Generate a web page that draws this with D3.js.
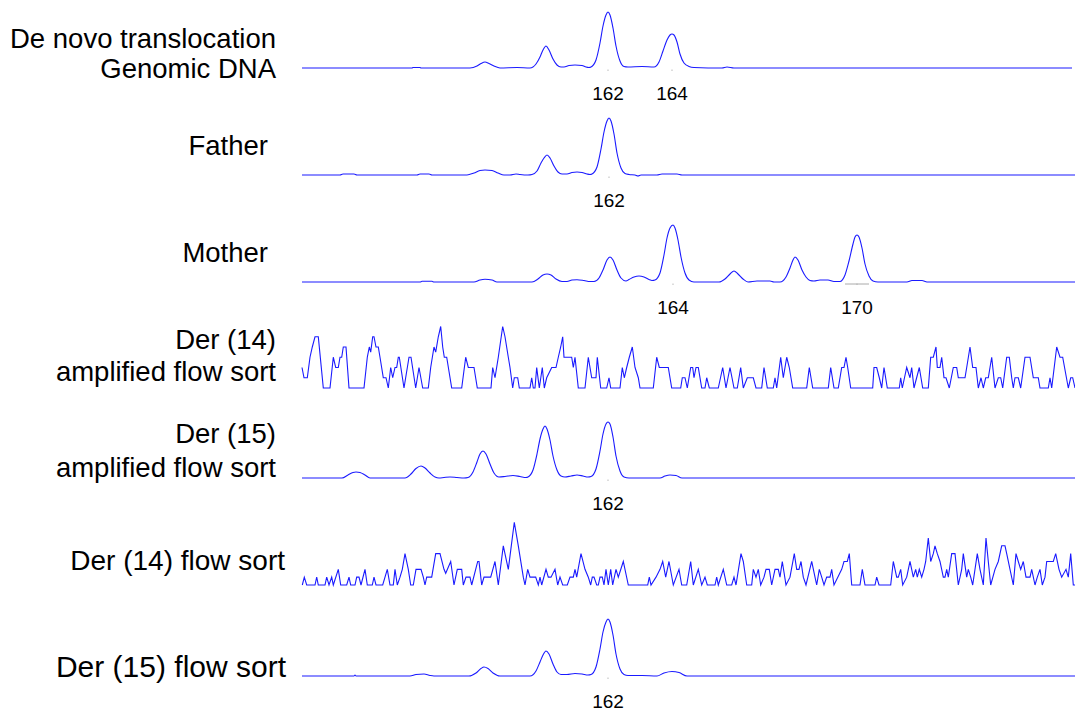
<!DOCTYPE html>
<html>
<head>
<meta charset="utf-8">
<script src="https://cdn.jsdelivr.net/npm/d3@7"></script>
<style>
  body { margin: 0; background: #fff; }
  svg { display: block; }
</style>
</head>
<body>
<div id="chart"></div>
<script>
// scan position (arbitrary units along the capillary) for every trace
const scanDomain = [0, 773];

const traceNames = [
  ["De novo translocation", "Genomic DNA"],
  ["Father"],
  ["Mother"],
  ["Der (14)", "amplified flow sort"],
  ["Der (15)", "amplified flow sort"],
  ["Der (14) flow sort"],
  ["Der (15) flow sort"]
];

// [scan, signal]
const deNovo = [[0,0],[110,0],[111,0.5],[118,0.5],[119,0],[168,0],[175,2],[179,4.5],[183,6],[187,4.5],[192,2],[198,0],
  [215,0.5],[228,0],[234,4],[238,11],[241,18],[244,22],[247,18],[251,9],[255,3],[259,1],[262,1],[267,2.5],[273,3],
  [280,2.5],[284,1],[287,0.5],[289,1],[294,8],[298,25],[301,42],[304,53],[306,56],[308,53],[311,40],[314,22],[318,7],
  [322,1.5],[326,1],[340,1.5],[352,1],[357,6],[361,17],[365,28],[368,33],[370,34],[372,33],[375,26],[378,14],[382,5],
  [387,1.5],[392,0.5],[420,0],[425,1],[432,0],[770,0]];

const father = [[0,0],[38,0],[41,1],[52,1],[55,0],[115,0],[118,1],[127,1],[130,0],[165,0],[172,2],[178,4.5],[183,5],
  [190,4.5],[196,2],[202,0],[208,0],[214,1],[218,0.5],[226,0],[230,0.5],[235,4],[239,12],[242,17],[245,20],[248,17],
  [252,9],[256,3],[260,1],[265,1],[270,2.5],[275,3],[280,2.5],[285,1],[288,0.5],[290,1],[295,8],[299,26],[302,43],
  [305,54],[307,57],[309,54],[312,41],[315,22],[319,7],[323,1.5],[327,0.5],[333,0],[336,-1],[339,0],[355,0],[360,1],
  [375,1],[380,0],[773,0]];

const mother = [[0,0],[118,0],[120,0.7],[130,0.7],[132,0],[172,0],[178,2],[183,2.7],[190,2],[195,0],[215,0],[230,0],
  [236,3],[241,7],[245,8],[249,7],[254,3],[260,0.5],[265,0.5],[270,2],[275,2.3],[282,1.5],[288,0.5],[292,0.5],[297,4],
  [301,12],[305,22],[308,25],[311,22],[315,12],[319,4],[324,1],[327,2.5],[332,5],[337,6],[342,5],[347,2.5],[350,1.5],
  [353,2],[358,9],[362,27],[365,44],[368,54],[371,57],[373,54],[376,42],[379,25],[383,9],[387,2],[392,0],[417,0],
  [423,3],[428,8],[432,11],[436,8],[441,3],[446,0],[455,1],[468,1],[472,0],[478,0],[484,5],[488,14],[491,22],[493,25],
  [496,22],[500,12],[504,5],[508,1.5],[512,1],[518,2],[526,2],[532,0.5],[538,0.5],[543,7],[547,21],[551,38],[553,45],
  [555,47],[557,45],[560,34],[563,18],[567,6],[571,1],[576,0],[605,0],[610,1.5],[620,1.5],[625,0],[773,0]];

// quantised signal levels
const der14Amp = [[0,2],[2,1],[5.3,1],[8,3],[10.3,4],[13,5],[16.3,5],[21.3,0],[28,0],[31.3,3],[33.7,2],[36.3,2],[38,3],
  [39.7,3],[41.3,4],[44,4],[47,0],[62,0],[65.3,3],[67.3,4],[68.7,3.5],[70.7,5],[72,5],[74,4],[76.3,4],[78,3],[81.3,1],
  [84,1],[86.3,0],[88.7,2],[90.7,1],[93,2],[94.7,2],[96.3,3],[97.3,3],[102,0],[107,3],[109,3],[113.7,0],[117,2],
  [120.7,0],[126.3,0],[128.7,2],[132,4],[133.7,3.5],[136.3,5],[138.7,6],[140.7,4],[142.3,3],[144.7,3],[149.7,0],
  [159.7,0],[163.7,3],[166.3,2],[172,2],[175.3,0],[189,0],[190.7,2],[193,1],[196.3,3],[200.7,6],[203,5],[206.3,3],
  [208,2],[210.7,0],[212.3,1],[215.7,1],[217.3,0],[228,0],[229.7,1],[231.3,0],[233,0],[234.7,2],[237.3,0],[240.3,2],
  [242.3,0],[244.7,1],[249.7,2],[254,2],[256.3,3],[258.7,4],[260.7,5],[262,3],[269.7,3],[271.3,2],[273,3],[276.3,0],
  [283,0],[286.3,3],[289.7,1],[294,1],[295.3,3],[298.7,0],[304.7,0],[307,1],[308.7,0],[318,0],[320.3,2],[322.3,1],
  [324.7,2],[327.3,3],[330.3,4],[333,2],[336.3,1],[338,0],[351.3,0],[354.7,3],[357.3,2],[366.3,2],[369.7,0],[378.7,0],
  [380.3,1],[383,1],[385.3,0],[388.7,2],[390.7,2],[392,1],[394,2],[396.3,2],[399.7,0],[403,0],[404.7,1],[407.3,0],
  [416.3,0],[420.7,2],[424,0],[428,2],[432,0],[435.3,0],[438.7,2],[441.3,0],[445.3,1],[451.3,1],[454,0],[459.7,0],
  [462,2],[465.3,0],[471.3,0],[473,1],[474.7,0],[478.7,3],[481.3,1],[484.7,3],[487.3,2],[490.7,0],[504.7,0],[507.3,2],
  [510.7,0],[526.3,0],[528.7,2],[532,0],[536.3,0],[539.7,2],[542,2],[544,3],[545.7,2],[548.7,0],[570.7,0],[572,2],
  [574.7,2],[577.3,1],[579.7,0],[582,2],[585.3,0],[597.3,0],[598.7,1],[600.3,0],[604.7,2],[608,1],[609.7,2],[612,0],
  [617.3,2],[620.7,0],[626.3,0],[628.7,3],[631.3,3],[634,4],[635.3,2],[638,2],[639.7,3],[642,1],[644,1],[647.3,0],
  [651.3,2],[654.7,2],[656.3,1],[663,1],[664.7,2],[668,4],[670.7,2],[674,2],[676.3,0],[679,1],[681.3,0],[683.7,1],
  [686.3,1],[689.7,3],[693,0],[696.3,1],[698.7,1],[700.7,0],[704.7,3],[707.3,3],[709.7,1],[711.3,0],[713,1],[716.3,1],
  [718.7,0],[723,3],[728,3],[731.3,1],[736.3,1],[738,0],[746.3,0],[748,1],[749.7,0],[754.7,4],[758,3],[760.7,3],
  [766.3,0],[768.7,1],[770.7,1],[773,0]];

const der14Flow = [[0.3,0],[2.3,1],[4.7,0],[13,0],[14.7,1],[16.3,0],[23,0],[24.7,1],[27,0],[29.7,1],[31.3,0],[36.3,2],
  [38.7,0],[44.7,0],[47,1],[48.7,0],[53,0],[54.7,1],[57,1],[59,0],[63,2],[65.3,0],[70.3,0],[72,1],[74,0],[80.7,0],
  [83,1],[85.3,2],[88,0],[91.3,0],[93,2],[95.3,0],[98,1],[100.3,2],[103,4],[106.3,2],[108.7,0],[111.3,0],[114,2],
  [119,2],[121.3,1],[123,0],[124.7,1],[129.7,1],[133.7,4],[138,4],[142,2],[143.7,1.5],[148.7,3],[152,0],[155.3,2],
  [159.7,2],[161.3,0],[164,1],[168,1],[169.7,0],[175.7,3],[177,3],[179.7,0],[182,1],[188.7,1],[193,3],[196.3,0],
  [201.3,5],[206.3,2],[212.3,8],[216.3,5],[221.3,1],[223,0],[225.7,2],[228,1],[233.7,1],[236.3,0],[238,1],[239.7,0],
  [244,2],[246.3,1],[249,1],[253,2],[255.7,0],[258,1],[260.7,0],[265.3,0],[268,1],[271.3,1],[273,2],[274.7,1],[279,4],
  [283,2],[286.3,1],[288.7,0],[290.3,1],[292,1],[294.7,0],[296.3,0],[298,1],[300.3,1],[302,0],[304,2],[306.3,0],
  [308.7,2],[310.7,0],[314,2],[316.3,1],[321.3,3],[326.3,0],[345.7,0],[347.3,1],[349,0],[354,1],[358,2],[360.7,3],
  [363.7,1],[367,3],[371.3,0],[377,2],[379.7,0],[384.7,0],[388.7,3],[391.3,0],[396.3,2],[399.7,0],[403,1],[405.3,0],
  [413,0],[414.7,1],[416.3,0],[421.3,2],[424.7,0],[429.7,0],[432,1],[434,0],[439,4],[441.3,3],[444.7,0],[449.7,0],
  [451.3,2],[454,1],[456.3,2],[458.7,0],[462,1],[464,2],[467.3,2],[469.7,0],[473,2],[476.3,2],[478,1],[480.3,3],
  [484,0],[488,1],[492.3,4],[494.7,2],[497,2],[499,3],[501.3,1],[504,0],[509.7,3],[513,1],[514.7,0],[517.3,2],
  [519.7,1],[522,0],[524.7,1],[528,1],[529.7,2],[532,0],[539.7,2],[542,3],[545.3,3],[547.3,4],[549.7,0],[558,0],
  [560.3,2],[563,0],[573,0],[574.7,1],[577,0],[588.7,0],[591.3,3],[594.7,1],[596.3,1],[598.7,2],[600.7,0],[604.7,1],
  [608,3],[611.3,1],[613.7,2],[615.3,1],[617.3,2],[619.7,1],[622,2],[623.7,3],[626.3,6],[628.7,3],[631.3,4],[633,5],
  [635.3,4],[638,3],[641.3,1],[643,1],[644.7,2],[646.3,1],[649.7,4],[653,4],[656.3,0],[659.7,2],[661.3,4],[664.7,1],
  [666.3,2],[668.7,1],[670.7,0],[675.3,4],[678,2],[681.3,0],[684,6],[686.3,3],[688.7,0],[693,2],[696.3,3],[699.7,5],
  [703,5],[704.7,4],[708,2],[711.3,0],[714,4],[716.3,3],[718.7,2],[721.3,3],[724,1],[728,1],[729.7,2],[733,0],
  [735.3,1],[738,2],[740.3,0],[743,1],[744.7,3],[751.3,3],[753.7,4],[757,2],[759.7,1],[764,2],[766.3,1],[768.7,4],
  [771.3,0],[773,0]];

const der15Amp = [[0,0],[40,0],[46,3],[51,5.5],[54,6],[58,5.5],[63,3],[68,0],[103,0],[109,4],[114,9.5],[119,12],
  [123,10],[128,5],[133,1],[137,0],[142,0.5],[148,1],[155,0.5],[162,0],[166,0.5],[171,6],[175,16],[178,24],[181,27],
  [184,24],[188,14],[192,5],[197,1],[203,1.5],[211,2.5],[218,1.5],[224,0.5],[226,1],[231,8],[235,24],[238,39],
  [241,49],[243,52],[245,49],[248,38],[251,22],[255,8],[259,2],[263,1],[269,2],[275,3],[281,2],[286,1],[289,1.5],
  [294,9],[298,27],[301,44],[304,54],[306,56],[308,54],[311,41],[314,22],[318,7],[322,1],[327,0],[358,0],[363,2],
  [368,3],[374,2.5],[380,0],[773,0]];

const der15Flow = [[0,0],[52,0],[53,1],[54,0],[108,0],[114,1.5],[122,2],[128,0.5],[132,0],[167,0],[174,3],[179,7.5],
  [182,9],[186,7.5],[191,3],[198,0],[228,0],[234,5],[238,14],[241,21],[244,25],[247,22],[251,12],[255,4],[259,1.5],
  [265,1.5],[273,2.5],[280,2],[286,1],[289,1.5],[294,9],[298,27],[301,44],[304,54],[306,57],[308,54],[311,41],
  [314,22],[318,7],[322,1.5],[326,0.5],[340,0.5],[355,0],[362,3],[370,4.5],[377,3.5],[385,0],[773,0]];

const traceData = [deNovo, father, mother, der14Amp, der15Amp, der14Flow, der15Flow];
const signalMax = [60, 60, 60, 6, 60, 8, 60];

// allele sizes (bp) marked under their peaks
const sizeLabels = [
  { trace: 0, scan: 306, text: "162" },
  { trace: 0, scan: 370, text: "164" },
  { trace: 1, scan: 307, text: "162" },
  { trace: 2, scan: 371, text: "164" },
  { trace: 2, scan: 555, text: "170" },
  { trace: 4, scan: 306, text: "162" },
  { trace: 6, scan: 306, text: "162" }
];

// layout: baseline y, panel height, label offsets
const width = 1075, height = 713;
const panels = [
  { base: 68,  h: 60,   lines: [-30, 0],   right: 276, fs: 27.5 },
  { base: 175, h: 60,   lines: [-30],      right: 268, fs: 27.5 },
  { base: 282, h: 60,   lines: [-30],      right: 268, fs: 27.5 },
  { base: 388, h: 61.5, lines: [-49, -17], right: 276, fs: 27.5 },
  { base: 478, h: 60,   lines: [-45, -11], right: 276, fs: 27.5 },
  { base: 585, h: 62.7, lines: [-25],      right: 285, fs: 28 },
  { base: 676, h: 60,   lines: [-10],      right: 286, fs: 30 }
];

const svg = d3.select("#chart").append("svg")
  .attr("width", width).attr("height", height)
  .style("background-color", "white");

const x = d3.scaleLinear().domain(scanDomain).range([302, 1075]);

traceData.forEach((data, i) => {
  const p = panels[i];
  const y = d3.scaleLinear().domain([0, signalMax[i]]).range([p.base, p.base - p.h]);
  const smooth = signalMax[i] === 60;
  const line = d3.line()
    .x(d => x(d[0]))
    .y(d => y(d[1]))
    .curve(smooth ? d3.curveMonotoneX : d3.curveLinear);

  svg.append("path")
    .datum(data)
    .attr("fill", "none")
    .attr("stroke", "#1a1aff")
    .attr("stroke-width", 1.1)
    .attr("d", line);

  const g = svg.append("g")
    .attr("font-family", "'Liberation Sans', Arial, sans-serif")
    .attr("font-size", p.fs)
    .attr("text-anchor", "end")
    .attr("fill", "#000");
  traceNames[i].forEach((t, k) => {
    g.append("text")
      .attr("x", p.right)
      .attr("y", p.base + p.lines[k] + p.fs * 0.36)
      .text(t);
  });
});

// size labels and faint tick marks
sizeLabels.forEach(d => {
  const p = panels[d.trace];
  svg.append("line")
    .attr("x1", x(d.scan)).attr("x2", x(d.scan))
    .attr("y1", p.base + 1.5).attr("y2", p.base + 3)
    .attr("stroke", "#bbb").attr("stroke-width", 1);
  svg.append("text")
    .attr("x", x(d.scan))
    .attr("y", p.base + 32)
    .attr("text-anchor", "middle")
    .attr("font-family", "'Liberation Sans', Arial, sans-serif")
    .attr("font-size", 19)
    .attr("fill", "#000")
    .text(d.text);
});

// short grey scale bar under the 170 peak
const mark = sizeLabels[4];
svg.append("line")
  .attr("x1", x(mark.scan - 12)).attr("x2", x(mark.scan + 12))
  .attr("y1", panels[2].base + 2).attr("y2", panels[2].base + 2)
  .attr("stroke", "#aaa").attr("stroke-width", 1);
</script>
</body>
</html>
